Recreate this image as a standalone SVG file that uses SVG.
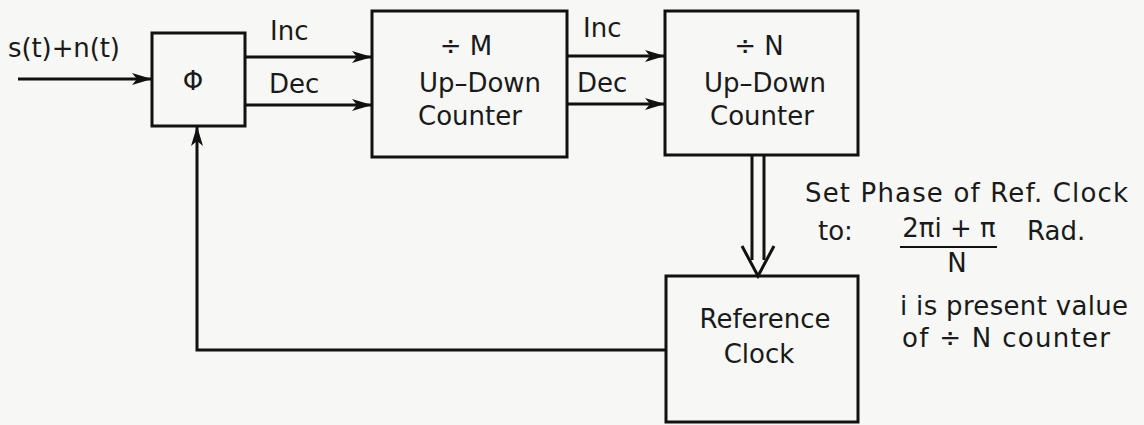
<svg xmlns="http://www.w3.org/2000/svg" width="1144" height="425" viewBox="0 0 1144 425">
<defs>
<marker id="ah" viewBox="0 0 20 12" refX="20" refY="6" markerWidth="20" markerHeight="12" markerUnits="userSpaceOnUse" orient="auto">
<path d="M0,0 L20,6 L0,12 L5,6 Z" fill="#111"/>
</marker>
</defs>
<style>
.box{fill:none;stroke:#111;stroke-width:3}
.ln{fill:none;stroke:#111;stroke-width:3}
text{font-family:"DejaVu Sans","Liberation Sans",sans-serif;fill:#1a1a1a;font-size:26px}
.c{text-anchor:middle}
</style>
<rect width="1144" height="425" fill="#f7f7f5"/>
<g id="phi">
<rect class="box" x="152" y="33" width="93" height="93"/>
<text class="c" x="193" y="90" font-size="22">Φ</text>
</g>
<g id="m-counter">
<rect class="box" x="372" y="11" width="195" height="146"/>
<text class="c" x="466" y="55">÷ M</text>
<text class="c" x="480" y="92">Up–Down</text>
<text class="c" x="470" y="125">Counter</text>
</g>
<g id="n-counter">
<rect class="box" x="665" y="11" width="193" height="144"/>
<text class="c" x="759" y="55">÷ N</text>
<text class="c" x="765" y="92">Up–Down</text>
<text class="c" x="762" y="125">Counter</text>
</g>
<g id="ref-clock">
<rect class="box" x="666" y="276" width="192" height="146"/>
<text class="c" x="765" y="328">Reference</text>
<text class="c" x="759" y="363">Clock</text>
</g>
<g id="connectors">
<line class="ln" x1="18" y1="79" x2="152" y2="79" marker-end="url(#ah)"/>
<line class="ln" x1="245" y1="57" x2="372" y2="57" marker-end="url(#ah)"/>
<line class="ln" x1="245" y1="105" x2="372" y2="105" marker-end="url(#ah)"/>
<line class="ln" x1="567" y1="56" x2="665" y2="56" marker-end="url(#ah)"/>
<line class="ln" x1="567" y1="104" x2="665" y2="104" marker-end="url(#ah)"/>
<polyline class="ln" points="666,350 197,350 197,126" marker-end="url(#ah)"/>
<line class="ln" x1="752" y1="155" x2="752" y2="260"/>
<line class="ln" x1="764" y1="155" x2="764" y2="260"/>
<polyline class="ln" points="742,246 758,276 774,246"/>
</g>
<g id="labels">
<text x="8" y="57" textLength="112">s(t)+n(t)</text>
<text x="270" y="40">Inc</text>
<text x="269" y="93">Dec</text>
<text x="583" y="37">Inc</text>
<text x="577" y="92">Dec</text>
<text x="805" y="202" textLength="323">Set Phase of Ref. Clock</text>
<text x="818" y="240">to:</text>
<text class="c" x="949" y="237" font-size="21">2πi + π</text>
<line x1="900" y1="247" x2="997" y2="247" stroke="#111" stroke-width="2"/>
<text class="c" x="957" y="272">N</text>
<text x="1027" y="240">Rad.</text>
<text x="900" y="315" textLength="228">i is present value</text>
<text x="902" y="347" textLength="208">of ÷ N counter</text>
</g>
</svg>
